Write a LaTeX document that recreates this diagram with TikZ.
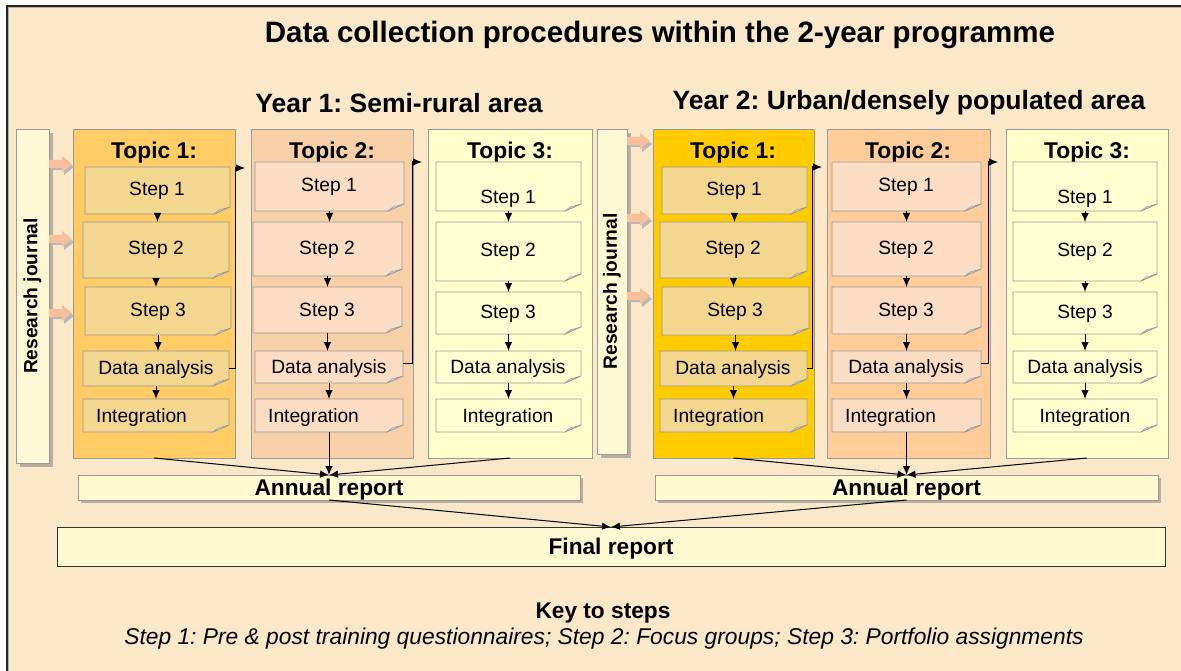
\documentclass[tikz,border=0pt]{standalone}
\usepackage{fontspec}
\setmainfont{Liberation Sans}
\usetikzlibrary{arrows.meta,calc}
\frenchspacing
\definecolor{bgpeach}{HTML}{FAE8C8}
\definecolor{boxgray}{HTML}{9A9A9A}
\definecolor{shgray}{HTML}{B8B0A0}
\definecolor{rjfill}{HTML}{FFF8D5}
\definecolor{tA}{HTML}{FFCC66}
\definecolor{tB}{HTML}{F8D0A8}
\definecolor{tC}{HTML}{FFFFCC}
\definecolor{tD}{HTML}{FFCC00}
\definecolor{tE}{HTML}{FFCC99}
\definecolor{stA}{HTML}{F3D68F}
\definecolor{stB}{HTML}{FADDC2}
\definecolor{stC}{HTML}{FFFFD2}
\definecolor{foldgray}{HTML}{D0D0D0}
\definecolor{salmon}{HTML}{F9BF9B}
\definecolor{repfill}{HTML}{FFFAD2}
\newcommand{\stp}[6]{%
  \node[stepanchor, minimum width={(#4-#2)*1pt}, minimum height={(#5-#3)*1pt}] (#1) at ({(#2+#4)/2},{(#3+#5)/2}) {};
  \filldraw[fill=#6, draw=boxgray, line width=0.8pt] (#2,#3) -- (#4,#3) -- (#4,#5-7) -- (#4-16,#5) -- (#2,#5) -- cycle;
  \filldraw[fill=foldgray, draw=boxgray, line width=0.5pt] (#4,#5-7) -- (#4-16,#5) -- (#4-11,#5-4) -- cycle;
}
\newcommand{\bigbox}[6]{%
  \node[#6, minimum width={(#4-#2)*1pt}, minimum height={(#5-#3)*1pt}] (#1) at ({(#2+#4)/2},{(#3+#5)/2}) {};
}
\newcommand{\shadowbox}[5]{%
  \fill[shgray] (#1+#5,#2+#5) rectangle (#3+#5,#4+#5);
}
\newcommand{\blockarr}[2]{%
  \fill[gray!55] (#1+2,#2-3+3) -- (#1+15,#2-3+3) -- (#1+15,#2-8+3) -- (#1+25,#2+3) -- (#1+15,#2+8+3) -- (#1+15,#2+3+3) -- (#1+2,#2+3+3) -- cycle;
  \fill[salmon] (#1,#2-4) -- (#1+13,#2-4) -- (#1+13,#2-8) -- (#1+23,#2) -- (#1+13,#2+8) -- (#1+13,#2+4) -- (#1,#2+4) -- cycle;
}
\begin{document}
\begin{tikzpicture}[x=1pt,y=-1pt,
  stepanchor/.style={rectangle, inner sep=0pt, outer sep=0pt},
  topicbox/.style={rectangle, draw=boxgray, line width=0.8pt, inner sep=0pt, outer sep=0pt},
  rjbox/.style={rectangle, draw=boxgray, fill=rjfill, line width=0.8pt, inner sep=0pt, outer sep=0pt},
  repbox/.style={rectangle, draw=boxgray, fill=repfill, line width=0.8pt, inner sep=0pt, outer sep=0pt},
  finalbox/.style={rectangle, draw=black!80, fill=repfill, line width=0.9pt, inner sep=0pt, outer sep=0pt},
  steptxt/.style={font=\fontsize{19.2}{22}\selectfont, inner sep=0pt, yshift=-2pt},
  topictxt/.style={font=\bfseries\fontsize{22.8}{26}\selectfont, inner sep=0pt, yshift=-2pt},
  rjtxt/.style={font=\bfseries\fontsize{19.2}{22}\selectfont, inner sep=0pt, rotate=90},
  reptxt/.style={font=\bfseries\fontsize{22.7}{26}\selectfont, inner sep=0pt, yshift=-2pt},
  headtxt/.style={font=\bfseries\fontsize{26.5}{30}\selectfont, inner sep=0pt, yshift=-2pt},
  titletxt/.style={font=\bfseries\fontsize{29.5}{34}\selectfont, inner sep=0pt, yshift=-2pt},
  arr/.style={-{Latex[length=9pt,width=7.5pt]}, line width=1pt, black},
]
\useasboundingbox (0,0) rectangle (1181,671);
\fill[white] (0,0) rectangle (1181,671);
\fill[bgpeach] (7,6) rectangle (1190,680);
\draw[line width=2.5pt, gray!60] (8,680) -- (8,7) -- (1190,7);
\draw[line width=1.5pt, black!85] (7,680) -- (7,6) -- (1190,6);

% titles
\node[titletxt] (title) at (660,33) {Data collection procedures within the 2-year programme};
\node[headtxt] (year1) at (399,101) {Year 1: Semi-rural area};
\node[headtxt] (year2) at (909,101) {Year 2: Urban/densely populated area};

% research journals
\shadowbox{16}{129}{49}{463}{4}
\bigbox{rj1}{16}{129}{49}{463}{rjbox}
\node[rjtxt] at (rj1.center) {Research journal};
\shadowbox{597}{129}{627}{454}{4}
\bigbox{rj2}{597}{129}{627}{454}{rjbox}
\node[rjtxt] at (rj2.center) {Research journal};

% topic boxes
\bigbox{T11}{73}{129}{235}{458}{topicbox, fill=tA}
\bigbox{T12}{251}{129}{413}{458}{topicbox, fill=tB}
\bigbox{T13}{428}{129}{592}{458}{topicbox, fill=tC}
\bigbox{T21}{653}{129}{814}{458}{topicbox, fill=tD}
\bigbox{T22}{827}{129}{990}{458}{topicbox, fill=tE}
\bigbox{T23}{1006}{129}{1168}{458}{topicbox, fill=tC}
\node[topictxt] at (154,151) {Topic 1:};
\node[topictxt] at (332,151) {Topic 2:};
\node[topictxt] at (510,151) {Topic 3:};
\node[topictxt] at (733,151) {Topic 1:};
\node[topictxt] at (908,151) {Topic 2:};
\node[topictxt] at (1087,151) {Topic 3:};

% block arrows from journals
\blockarr{49}{164}
\blockarr{49}{239}
\blockarr{49}{313}
\blockarr{627}{141}
\blockarr{627}{218}
\blockarr{627}{296}

% Year 1 Topic 1
\stp{a1}{85}{167}{230}{214}{stA}
\stp{a2}{83}{222}{229}{278}{stA}
\stp{a3}{85}{287}{231}{335}{stA}
\stp{a4}{83}{351}{229}{386}{stA}
\stp{a5}{83}{399}{229}{432}{stA}
\node[steptxt] at (157,189) {Step 1};
\node[steptxt] at (156,248) {Step 2};
\node[steptxt] at (158,310) {Step 3};
\node[steptxt] at (156,368) {Data analysis};
\node[steptxt, anchor=west] at (96,416) {Integration};

% Year 1 Topic 2
\stp{b1}{255}{162}{404}{211}{stB}
\stp{b2}{253}{222}{402}{276}{stB}
\stp{b3}{253}{287}{402}{333}{stB}
\stp{b4}{255}{351}{403}{383}{stB}
\stp{b5}{255}{399}{403}{432}{stB}
\node[steptxt] at (329,185) {Step 1};
\node[steptxt] at (327,248) {Step 2};
\node[steptxt] at (327,310) {Step 3};
\node[steptxt] at (329,367) {Data analysis};
\node[steptxt, anchor=west] at (268,416) {Integration};

% Year 1 Topic 3
\stp{c1}{436}{162}{581}{211}{stC}
\stp{c2}{436}{222}{581}{281}{stC}
\stp{c3}{436}{292}{581}{334}{stC}
\stp{c4}{436}{351}{581}{383}{stC}
\stp{c5}{436}{399}{581}{432}{stC}
\node[steptxt] at (508,197) {Step 1};
\node[steptxt] at (508,250) {Step 2};
\node[steptxt] at (508,312) {Step 3};
\node[steptxt] at (508,367) {Data analysis};
\node[steptxt] at (508,416) {Integration};

% Year 2 Topic 1
\stp{d1}{662}{167}{807}{214}{stA}
\stp{d2}{660}{222}{807}{278}{stA}
\stp{d3}{662}{287}{809}{335}{stA}
\stp{d4}{660}{351}{807}{386}{stA}
\stp{d5}{660}{399}{807}{432}{stA}
\node[steptxt] at (734,189) {Step 1};
\node[steptxt] at (733,248) {Step 2};
\node[steptxt] at (735,310) {Step 3};
\node[steptxt] at (733,368) {Data analysis};
\node[steptxt, anchor=west] at (673,416) {Integration};

% Year 2 Topic 2
\stp{e1}{832}{162}{981}{211}{stB}
\stp{e2}{832}{222}{981}{276}{stB}
\stp{e3}{832}{287}{981}{334}{stB}
\stp{e4}{832}{351}{981}{383}{stB}
\stp{e5}{832}{399}{981}{432}{stB}
\node[steptxt] at (906,185) {Step 1};
\node[steptxt] at (906,248) {Step 2};
\node[steptxt] at (906,310) {Step 3};
\node[steptxt] at (906,367) {Data analysis};
\node[steptxt, anchor=west] at (845,416) {Integration};

% Year 2 Topic 3
\stp{f1}{1013}{162}{1157}{211}{stC}
\stp{f2}{1013}{222}{1157}{281}{stC}
\stp{f3}{1013}{292}{1157}{334}{stC}
\stp{f4}{1013}{351}{1157}{383}{stC}
\stp{f5}{1013}{399}{1157}{432}{stC}
\node[steptxt] at (1085,197) {Step 1};
\node[steptxt] at (1085,250) {Step 2};
\node[steptxt] at (1085,312) {Step 3};
\node[steptxt] at (1085,367) {Data analysis};
\node[steptxt] at (1085,416) {Integration};

% step arrows
\foreach \p in {a,b,c,d,e,f}{
  \draw[arr] (\p1.south) -- (\p1.south |- \p2.north);
  \draw[arr] (\p2.south) -- (\p2.south |- \p3.north);
  \draw[arr] (\p3.south) -- (\p3.south |- \p4.north);
  \draw[arr] (\p4.south) -- (\p4.south |- \p5.north);
}

% topic to topic connectors
\coordinate (k12) at (245,168);
\coordinate (k23) at (422,162);
\coordinate (k45) at (822,167);
\coordinate (k56) at (998,162);
\draw[arr] (a4.east) -- ++(6,0) |- (k12);
\draw[arr] ([yshift=4pt]b4.east) -- ++(9,0) |- (k23);
\draw[arr] (d4.east) -- ++(5,0) |- (k45);
\draw[arr] ([yshift=4pt]e4.east) -- ++(7,0) |- (k56);

% annual reports
\shadowbox{78}{475}{580}{500}{3}
\bigbox{AR1}{78}{475}{580}{500}{repbox}
\node[reptxt] at (AR1.center) {Annual report};
\shadowbox{655}{475}{1158}{500}{3}
\bigbox{AR2}{655}{475}{1158}{500}{repbox}
\node[reptxt] at (AR2.center) {Annual report};

% final report
\bigbox{FR}{57}{527}{1165}{566}{finalbox}
\node[reptxt] at (FR.center) {Final report};

% report arrows
\draw[arr] (T11.south) -- (AR1.north);
\draw[arr] (b5.south) -- (AR1.north);
\draw[arr] (T13.south) -- (AR1.north);
\draw[arr] (T21.south) -- (AR2.north);
\draw[arr] (e5.south) -- (AR2.north);
\draw[arr] (T23.south) -- (AR2.north);
\draw[arr] (AR1.south) -- (FR.north);
\draw[arr] (AR2.south) -- (FR.north);

% key
\node[reptxt] (key) at (603,611) {Key to steps};
\node[font=\itshape\fontsize{22.8}{26}\selectfont, inner sep=0pt, yshift=-2pt] (keyline) at (604,637) {Step 1: Pre \& post training questionnaires; Step 2: Focus groups; Step 3: Portfolio assignments};
\end{tikzpicture}
\end{document}
